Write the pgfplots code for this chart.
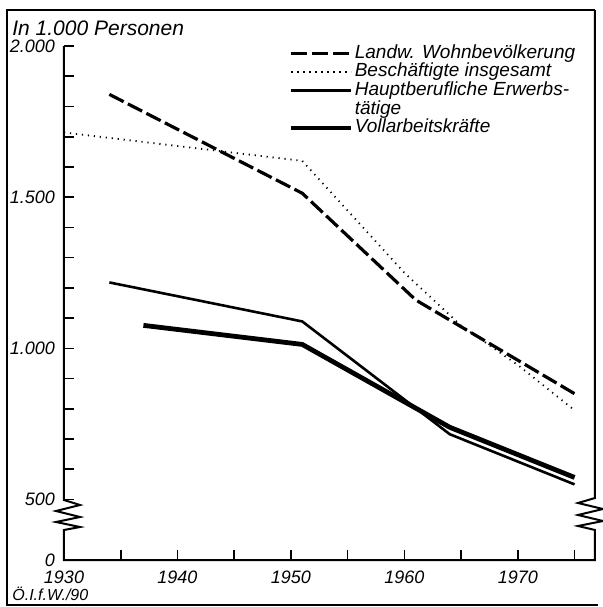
\documentclass[border=0pt]{standalone}
\usepackage{fontspec}
\setmainfont{Liberation Sans}
\usepackage{pgfplots}
\usepackage{pgfplotstable}
\pgfplotsset{compat=1.18}

% values in 1.000 persons (axis is broken below 500, so plot v-300)
\pgfplotstableread{
year v
1934 1840
1951 1513
1961 1160
1975 850
}\landw
\pgfplotstableread{
year v
1930 1714
1951 1620
1960 1250
1965 1075
1970 945
1975 795
}\besch
\pgfplotstableread{
year v
1934 1218
1951 1089
1964 716
1975 550
}\haupt
\pgfplotstableread{
year v
1937 1076
1951 1013
1964 739
1975 573
}\voll

\begin{document}
\begin{tikzpicture}
\begin{axis}[
    at={(0pt,0pt)}, anchor=south west,
    scale only axis, width=265.5pt, height=257pt,
    xmin=1930, xmax=1976.8, ymin=0, ymax=1700,
    axis x line=bottom, axis y line=left,
    axis line style={draw=none},
    tick align=inside,
    major tick length=5pt, minor tick length=5pt,
    every tick/.style={black, line width=0.8pt},
    xtick={1930,1935,...,1975},
    xticklabels={1930,,1940,,1950,,1960,,1970,},
    ytick={0,200,700,1200,1700},
    yticklabels={0,500,1.000,1.500,2.000},
    minor ytick={300,400,...,1600},
    ticklabel style={font=\fontsize{9}{10}\selectfont\itshape},
    xticklabel style={yshift=-2pt},
    yticklabel style={xshift=-1pt},
    clip=false,
    legend cell align=left,
    legend image code/.code={\draw[#1] (0pt,0pt) -- (30pt,0pt);},
    legend style={at={(axis description cs:0.423,1.004)}, anchor=north west,
        draw=none, fill=none, inner sep=0pt, row sep=0.1pt, column sep=0.5pt,
        font=\fontsize{9.5}{9.6}\selectfont\itshape,
        nodes={inner sep=0pt, text height=7pt, text depth=2.2pt}},
]
\addplot[black, line width=1.6pt, dash pattern=on 8pt off 2.4pt]
    table[x=year, y expr=\thisrow{v}-300] {\landw};
\addlegendentry{Landw. Wohnbevölkerung}
\addplot[black, line width=0.9pt, dash pattern=on 0.6pt off 2.4pt]
    table[x=year, y expr=\thisrow{v}-300] {\besch};
\addlegendentry{Beschäftigte insgesamt}
\addplot[black, line width=1.3pt]
    table[x=year, y expr=\thisrow{v}-300] {\haupt};
\addlegendentry{Hauptberufliche Erwerbs-}
\addlegendimage{empty legend}
\addlegendentry{tätige}
\addplot[black, line width=2.4pt]
    table[x=year, y expr=\thisrow{v}-300] {\voll};
\addlegendentry{Vollarbeitskräfte}
\end{axis}

% axis lines with breaks
\draw[line width=1pt, line join=miter]
    (0pt,257pt) -- (0pt,30pt) -- (8pt,27.5pt) -- (-4pt,24.5pt) -- (8pt,21.5pt)
    -- (-4pt,19pt) -- (8pt,16.5pt) -- (0pt,15pt) -- (0pt,0pt) -- (265.5pt,0pt)
    -- (265.5pt,15pt) -- (257pt,17pt) -- (269.5pt,19.5pt) -- (257pt,22.5pt)
    -- (269.5pt,25.5pt) -- (257pt,28.5pt) -- (265.5pt,31pt) -- (265.5pt,275pt);
% frame
\draw[line width=1.2pt] (265.5pt,275pt) -- (-28.5pt,275pt) -- (-28.5pt,-22.5pt) -- (267pt,-22.5pt);

\node[anchor=base west, inner sep=0pt, font=\fontsize{10.5}{12}\selectfont\itshape]
    at (-26pt,262.5pt) {In 1.000 Personen};
\node[anchor=base west, inner sep=0pt, font=\fontsize{8}{9}\selectfont\itshape]
    at (-26pt,-20pt) {Ö.I.f.W./90};

\pgfresetboundingbox
\path (-32pt,-23.5pt) rectangle (269.5pt,280pt);
\end{tikzpicture}
\end{document}
